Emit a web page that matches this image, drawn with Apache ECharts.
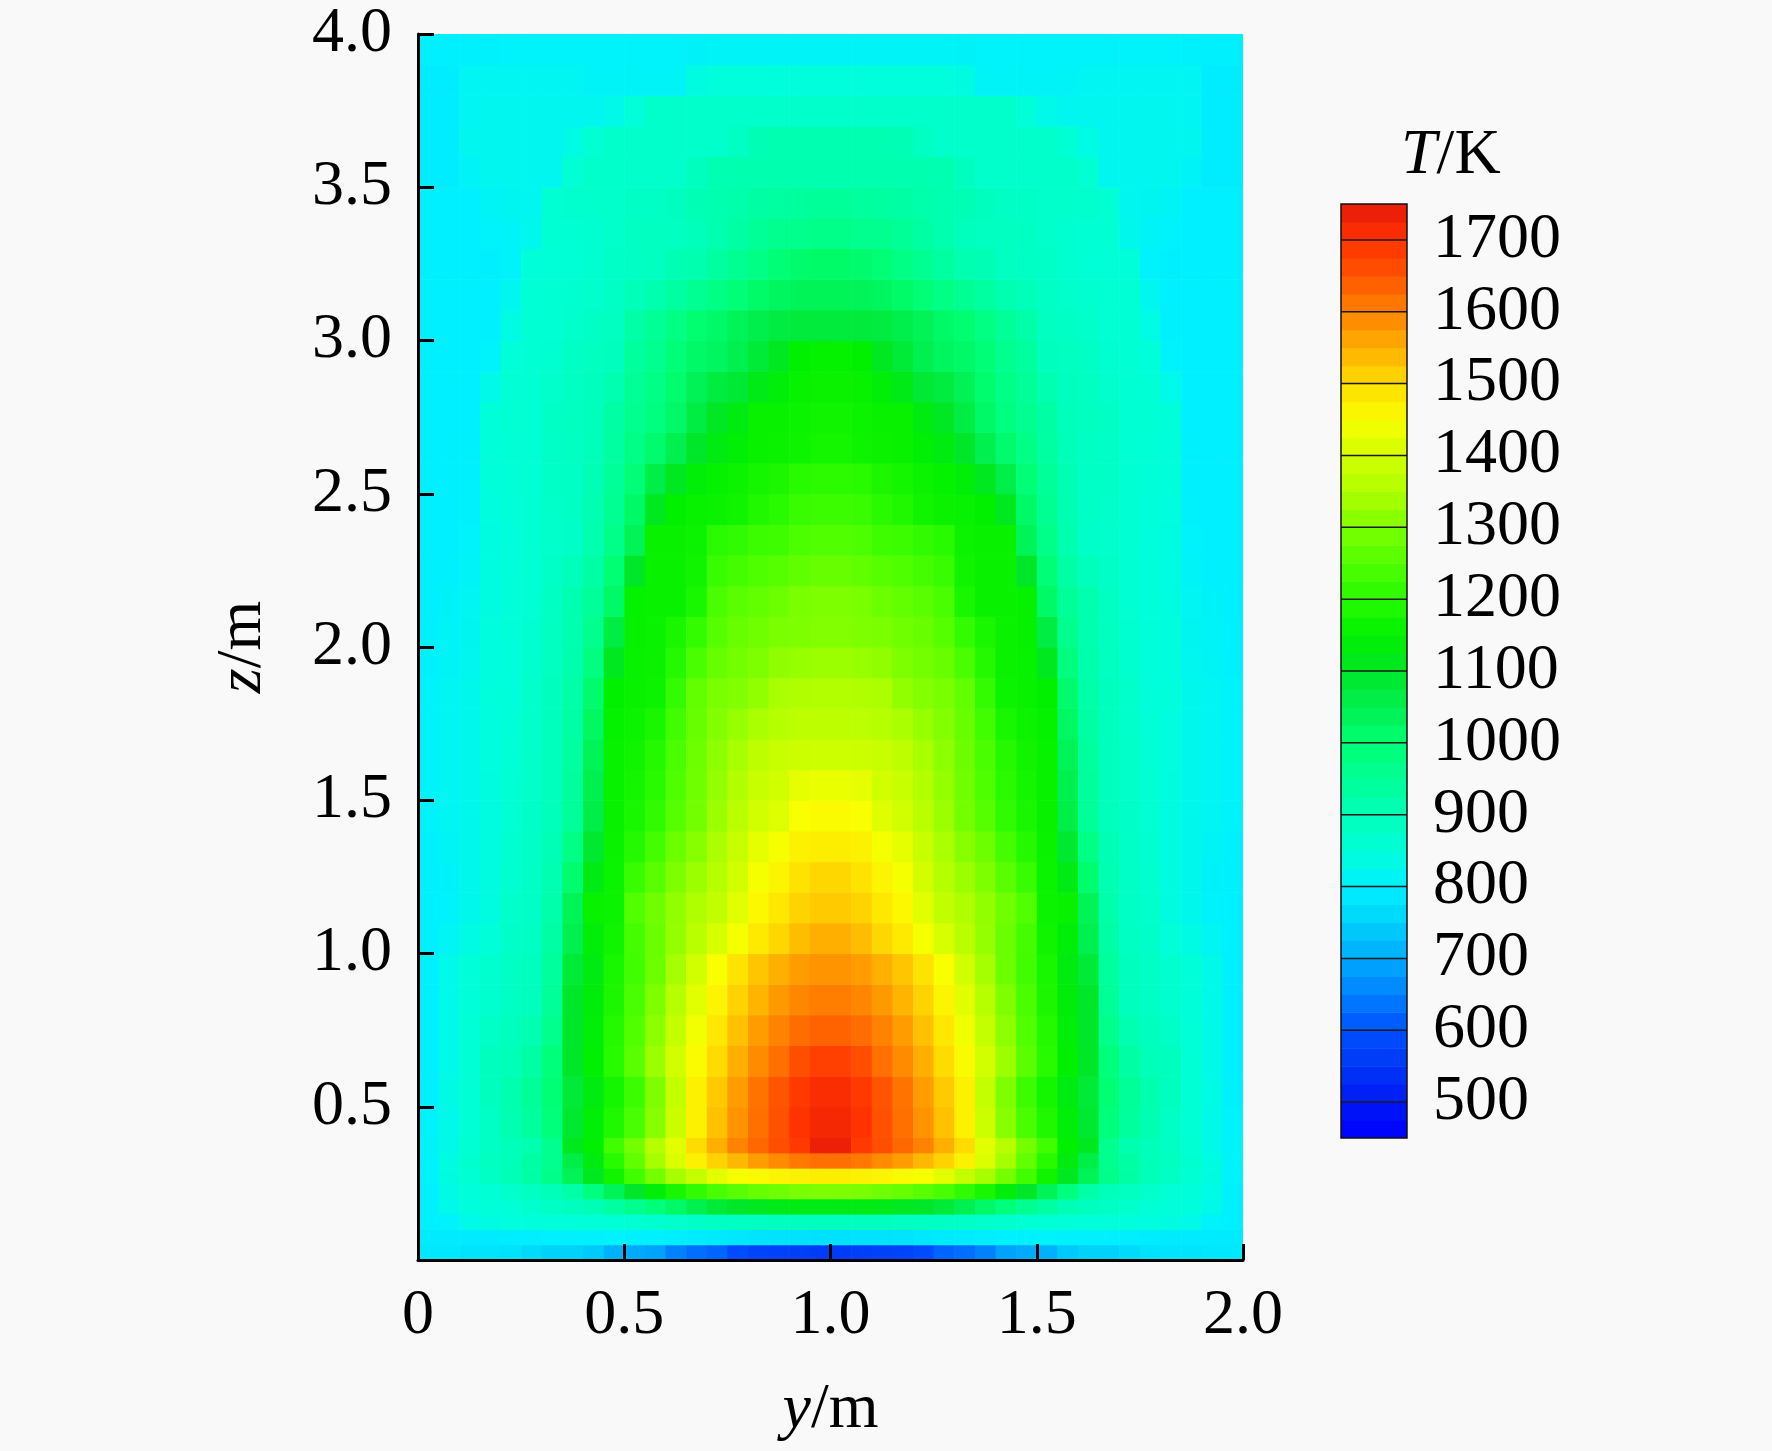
<!DOCTYPE html>
<html lang="zh">
<head>
    <meta charset="UTF-8">
    <title>温度场 T/K</title>
    <script src="https://cdn.jsdelivr.net/npm/echarts@6/dist/echarts.min.js"></script>
    <style>
        html, body { margin: 0; padding: 0; background: #f9f9f9; }
        #main { width: 1772px; height: 1451px; }
    </style>
</head>
<body>
<div id="main"></div>
<script type="text/javascript">
    // 网格边界 (y 方向 / z 方向, 单位 m)
    var yEdges = [0, 0.05, 0.1, 0.15, 0.2, 0.25, 0.3, 0.35, 0.4, 0.45, 0.5, 0.55, 0.6, 0.65, 0.7, 0.75, 0.8, 0.85, 0.9, 0.95,
        1.0, 1.05, 1.1, 1.15, 1.2, 1.25, 1.3, 1.35, 1.4, 1.45, 1.5, 1.55, 1.6, 1.65, 1.7, 1.75, 1.8, 1.85, 1.9, 1.95, 2.0];
    var zEdges = [0, 0.05, 0.1, 0.15, 0.2, 0.25, 0.3, 0.35, 0.4, 0.5, 0.6, 0.7, 0.8, 0.9, 1.0, 1.1, 1.2, 1.3, 1.4, 1.5,
        1.6, 1.7, 1.8, 1.9, 2.0, 2.1, 2.2, 2.3, 2.4, 2.5, 2.6, 2.7, 2.8, 2.9, 3.0, 3.1, 3.2, 3.3, 3.4, 3.5,
        3.6, 3.7, 3.8, 3.9, 4.0];

    // 温度 T/K, 每行一个 z 层 (从下到上), 每行 40 个 y 单元 (从左到右)
    var tempRows = [
        [785,785,782,780,778,765,752,750,740,710,700,690,650,630,620,590,575,570,565,560,560,565,570,575,590,620,630,650,690,700,710,740,750,752,765,778,780,782,785,785],
        [792,792,793,794,795,797,800,802,804,805,803,800,797,793,790,785,780,778,776,775,775,776,778,780,785,790,793,797,800,803,805,804,802,800,797,795,794,793,792,792],
        [800,805,830,838,842,845,847,850,852,855,858,865,872,878,882,885,888,890,890,890,890,890,890,888,885,882,878,872,865,858,855,852,850,847,845,842,838,830,805,800],
        [800,830,845,850,855,868,880,890,905,935,960,990,1020,1050,1080,1100,1110,1120,1125,1125,1125,1125,1120,1110,1100,1080,1050,1020,990,960,935,905,890,880,868,855,850,845,830,800],
        [800,835,850,855,872,888,900,925,985,1040,1100,1140,1180,1210,1240,1260,1275,1285,1295,1300,1300,1295,1285,1275,1260,1240,1210,1180,1140,1100,1040,985,925,900,888,872,855,850,835,800],
        [805,840,860,882,902,928,968,1040,1110,1170,1230,1290,1340,1380,1420,1445,1455,1465,1470,1475,1475,1470,1465,1455,1445,1420,1380,1340,1290,1230,1170,1110,1040,968,928,902,882,860,840,805],
        [805,840,865,888,900,928,960,1060,1130,1200,1270,1340,1410,1470,1510,1540,1570,1590,1610,1620,1620,1610,1590,1570,1540,1510,1470,1410,1340,1270,1200,1130,1060,960,928,900,888,865,840,805],
        [810,830,860,880,900,915,960,1110,1150,1230,1290,1360,1420,1500,1550,1600,1630,1660,1690,1735,1735,1690,1660,1630,1600,1550,1500,1420,1360,1290,1230,1150,1110,960,915,900,880,860,830,810],
        [805,830,855,880,910,940,990,1090,1140,1190,1240,1310,1390,1470,1530,1580,1620,1655,1700,1720,1720,1700,1655,1620,1580,1530,1470,1390,1310,1240,1190,1140,1090,990,940,910,880,855,830,805],
        [800,835,855,890,915,945,1000,1080,1130,1175,1225,1300,1380,1470,1520,1570,1615,1650,1690,1710,1710,1690,1650,1615,1570,1520,1470,1380,1300,1225,1175,1130,1080,1000,945,915,890,855,835,800],
        [800,830,855,890,900,930,990,1100,1150,1200,1260,1330,1400,1455,1500,1550,1590,1620,1660,1680,1680,1660,1620,1590,1550,1500,1455,1400,1330,1260,1200,1150,1100,990,930,900,890,855,830,800],
        [800,830,852,878,890,910,965,1100,1140,1195,1250,1315,1380,1440,1485,1530,1570,1600,1625,1635,1635,1625,1600,1570,1530,1485,1440,1380,1315,1250,1195,1140,1100,965,910,890,878,852,830,800],
        [800,830,850,865,880,890,945,1100,1135,1185,1240,1300,1360,1420,1465,1510,1545,1575,1595,1605,1605,1595,1575,1545,1510,1465,1420,1360,1300,1240,1185,1135,1100,945,890,880,865,850,830,800],
        [800,830,850,865,880,890,940,1080,1130,1180,1230,1280,1340,1400,1450,1490,1525,1550,1570,1580,1580,1570,1550,1525,1490,1450,1400,1340,1280,1230,1180,1130,1080,940,890,880,865,850,830,800],
        [800,815,835,850,875,885,928,1050,1140,1170,1235,1278,1322,1365,1405,1445,1480,1505,1535,1550,1550,1535,1505,1480,1445,1405,1365,1322,1278,1235,1170,1140,1050,928,885,875,850,835,815,800],
        [800,805,825,840,870,880,920,1040,1160,1165,1250,1285,1320,1350,1375,1420,1460,1485,1510,1520,1520,1510,1485,1460,1420,1375,1350,1320,1285,1250,1165,1160,1040,920,880,870,840,825,805,800],
        [802,808,825,840,866,878,912,1008,1125,1163,1220,1260,1300,1330,1360,1400,1445,1465,1490,1505,1505,1490,1465,1445,1400,1360,1330,1300,1260,1220,1163,1125,1008,912,878,866,840,825,808,802],
        [803,812,825,840,863,877,903,975,1090,1161,1195,1235,1280,1310,1345,1385,1425,1445,1470,1475,1475,1470,1445,1425,1385,1345,1310,1280,1235,1195,1161,1090,975,903,877,863,840,825,812,803],
        [805,815,825,840,860,875,895,945,1060,1160,1180,1210,1255,1290,1330,1365,1400,1415,1450,1455,1455,1450,1415,1400,1365,1330,1290,1255,1210,1180,1160,1060,945,895,875,860,840,825,815,805],
        [805,815,825,841,858,874,894,941,1050,1159,1175,1203,1248,1286,1322,1355,1385,1400,1425,1430,1430,1425,1400,1385,1355,1322,1286,1248,1203,1175,1159,1050,941,894,874,858,841,825,815,805],
        [805,815,825,842,855,873,893,937,1040,1158,1170,1195,1240,1282,1315,1342,1370,1385,1390,1392,1392,1390,1385,1370,1342,1315,1282,1240,1195,1170,1158,1040,937,893,873,855,842,825,815,805],
        [805,815,825,844,851,871,892,930,1025,1155,1165,1180,1230,1275,1305,1325,1345,1360,1368,1370,1370,1368,1360,1345,1325,1305,1275,1230,1180,1165,1155,1025,930,892,871,851,844,825,815,805],
        [805,815,825,845,848,870,890,925,1010,1150,1160,1165,1215,1270,1295,1305,1320,1345,1350,1355,1355,1350,1345,1320,1305,1295,1270,1215,1165,1160,1150,1010,925,890,870,848,845,825,815,805],
        [803,812,820,843,848,866,888,918,985,1110,1158,1162,1195,1240,1275,1290,1300,1318,1325,1330,1330,1325,1318,1300,1290,1275,1240,1195,1162,1158,1110,985,918,888,866,848,843,820,812,803],
        [802,810,818,842,849,863,887,913,965,1065,1157,1161,1180,1215,1255,1275,1285,1295,1300,1305,1305,1300,1295,1285,1275,1255,1215,1180,1161,1157,1065,965,913,887,863,849,842,818,810,802],
        [800,808,815,840,850,860,885,915,945,1020,1155,1160,1160,1180,1240,1260,1270,1280,1295,1300,1300,1295,1280,1270,1260,1240,1180,1160,1160,1155,1020,945,915,885,860,850,840,815,808,800],
        [800,802,810,840,848,860,878,895,930,995,1100,1160,1160,1170,1220,1235,1248,1255,1268,1275,1275,1268,1255,1248,1235,1220,1170,1160,1160,1100,995,930,895,878,860,848,840,810,802,800],
        [800,800,805,840,845,860,872,875,915,970,1040,1160,1160,1165,1200,1210,1225,1228,1245,1250,1250,1245,1228,1225,1210,1200,1165,1160,1160,1040,970,915,875,872,860,845,840,805,800,800],
        [800,800,804,844,850,860,874,880,910,955,1020,1110,1150,1158,1162,1170,1190,1200,1220,1225,1225,1220,1200,1190,1170,1162,1158,1150,1110,1020,955,910,880,874,860,850,844,804,800,800],
        [800,800,803,846,853,860,876,882,905,945,995,1060,1110,1140,1155,1165,1175,1185,1200,1205,1205,1200,1185,1175,1165,1155,1140,1110,1060,995,945,905,882,876,860,853,846,803,800,800],
        [800,800,802,848,857,860,878,885,900,935,975,1010,1050,1100,1130,1145,1160,1162,1168,1175,1175,1168,1162,1160,1145,1130,1100,1050,1010,975,935,900,885,878,860,857,848,802,800,800],
        [800,800,800,850,860,860,880,887,895,930,960,985,1020,1065,1105,1130,1160,1160,1165,1170,1170,1165,1160,1160,1130,1105,1065,1020,985,960,930,895,887,880,860,860,850,800,800,800],
        [800,800,800,830,855,860,870,884,890,910,950,972,1008,1042,1070,1085,1120,1140,1158,1162,1162,1158,1140,1120,1085,1070,1042,1008,972,950,910,890,884,870,860,855,830,800,800,800],
        [800,800,800,805,850,860,862,880,887,890,940,960,995,1020,1030,1050,1080,1110,1150,1155,1155,1150,1110,1080,1050,1030,1020,995,960,940,890,887,880,862,860,850,805,800,800,800],
        [800,800,800,802,835,858,860,872,880,887,925,950,980,1005,1020,1040,1055,1070,1075,1075,1075,1075,1070,1055,1040,1020,1005,980,950,925,887,880,872,860,858,835,802,800,800,800],
        [800,800,800,800,820,855,858,865,872,882,900,915,935,955,975,995,1015,1030,1038,1040,1040,1038,1030,1015,995,975,955,935,915,900,882,872,865,858,855,820,800,800,800,800],
        [800,800,800,798,805,850,852,855,862,878,882,887,905,915,935,955,975,1000,1010,1015,1015,1010,1000,975,955,935,915,905,887,882,878,862,855,852,850,805,798,800,800,800],
        [800,800,800,805,810,825,860,860,862,870,885,887,888,895,915,930,950,960,965,970,970,965,960,950,930,915,895,888,887,885,870,862,860,860,825,810,805,800,800,800],
        [800,800,800,812,818,820,860,868,870,872,880,880,890,905,915,920,930,935,940,945,945,940,935,930,920,915,905,890,880,880,872,870,868,860,820,818,812,800,800,800],
        [795,795,810,820,820,820,820,860,872,872,872,872,872,890,912,915,915,915,915,915,915,915,915,915,915,912,890,872,872,872,872,872,860,820,820,820,820,810,795,795],
        [795,795,820,820,820,820,820,835,860,872,872,872,872,872,872,885,905,912,912,912,912,912,912,905,885,872,872,872,872,872,872,860,835,820,820,820,820,820,795,795],
        [795,795,815,820,820,820,820,820,820,830,850,870,870,870,870,870,870,870,870,870,870,870,870,870,870,870,870,870,870,850,830,820,820,820,820,820,820,815,795,795],
        [795,795,815,815,815,815,815,815,810,810,810,810,810,840,845,845,845,845,845,845,845,845,845,845,845,845,840,810,810,810,810,810,815,815,815,815,815,815,795,795],
        [800,800,802,804,805,806,806,806,806,806,806,806,806,808,810,810,810,810,810,810,810,810,810,810,810,810,808,806,806,806,806,806,806,806,806,806,805,804,802,800]
    ];

    // 色标分段与刻度
    var barEdges = [450, 475, 500, 525, 550, 575, 600, 625, 650, 675, 700, 725, 750, 775, 800, 825, 850, 875, 900, 925,
        950, 975, 1000, 1025, 1050, 1075, 1100, 1125, 1150, 1175, 1200, 1225, 1250, 1275, 1300, 1325, 1350, 1375,
        1400, 1425, 1450, 1475, 1500, 1525, 1550, 1575, 1600, 1625, 1650, 1675, 1700, 1725, 1750];
    var barTicks = [500, 600, 700, 800, 900, 1000, 1100, 1200, 1300, 1400, 1500, 1600, 1700];
    var yTicks = [0, 0.5, 1.0, 1.5, 2.0];
    var zTicks = [0.5, 1.0, 1.5, 2.0, 2.5, 3.0, 3.5, 4.0];

    var rainbow = ['#0000ff', '#0018f5', '#0037f5', '#0050ff', '#0082ff', '#00aaff', '#00d2fa', '#00f0ff',
        '#00ffd8', '#00ffb8', '#00ff96', '#00ff74', '#00f050', '#00e628', '#00f000', '#28fa00', '#50ff00',
        '#7dff00', '#afff00', '#d2ff00', '#faff00', '#ffdc00', '#ffaf00', '#ff8200', '#ff5500', '#ff3200', '#e6190a'];

    var FONT = '"Liberation Serif", "Times New Roman", serif';

    var cells = [];
    for (var i = 0; i < tempRows.length; i++) {
        for (var j = 0; j < tempRows[i].length; j++) {
            cells.push([yEdges[j], yEdges[j + 1], zEdges[i], zEdges[i + 1], tempRows[i][j]]);
        }
    }
    var bands = [];
    for (var k = 0; k < barEdges.length - 1; k++) {
        bands.push([0, 1, barEdges[k], barEdges[k + 1], (barEdges[k] + barEdges[k + 1]) / 2]);
    }

    function renderCell(params, api) {
        var p0 = api.coord([api.value(0), api.value(3)]);
        var p1 = api.coord([api.value(1), api.value(2)]);
        return {
            type: 'rect',
            shape: { x: p0[0], y: p0[1], width: p1[0] - p0[0] + 0.6, height: p1[1] - p0[1] + 0.6 },
            style: { fill: api.visual('color') }
        };
    }

    function renderBand(params, api) {
        var lo = api.value(2);
        var p0 = api.coord([0, api.value(3)]);
        var p1 = api.coord([1, lo]);
        var kids = [{
            type: 'rect',
            shape: { x: p0[0], y: p0[1], width: p1[0] - p0[0], height: p1[1] - p0[1] + 0.6 },
            style: { fill: api.visual('color') }
        }];
        if (lo % 100 === 0) {
            kids.push({
                type: 'line',
                z2: 10,
                shape: { x1: p0[0], y1: p1[1], x2: p1[0], y2: p1[1] },
                style: { stroke: '#1a1a1a', lineWidth: 1.5 }
            });
        }
        return { type: 'group', children: kids };
    }

    var labelStyle = { fontFamily: FONT, fontSize: 64, color: '#000' };
    var nameStyle = {
        fontFamily: FONT, fontSize: 64, color: '#000',
        rich: { i: { fontFamily: FONT, fontSize: 64, fontStyle: 'italic', color: '#000' } }
    };

    var myChart = echarts.init(document.getElementById('main'));
    myChart.setOption({
        backgroundColor: '#f9f9f9',
        animation: false,
        title: {
            text: '{i|T}/K',
            left: 1401,
            top: 124,
            padding: 0,
            textStyle: {
                fontFamily: FONT, fontSize: 64, fontWeight: 'normal', color: '#000',
                rich: { i: { fontFamily: FONT, fontSize: 64, fontStyle: 'italic', color: '#000' } }
            }
        },
        grid: [
            { left: 418, top: 34, width: 825, height: 1226 },
            { left: 1341, top: 204, width: 66, height: 934, show: true, z: 10,
              borderColor: '#111', borderWidth: 1.5, backgroundColor: 'transparent' }
        ],
        visualMap: {
            type: 'continuous',
            show: false,
            min: 450,
            max: 1750,
            dimension: 4,
            seriesIndex: [0, 1],
            inRange: { color: rainbow }
        },
        xAxis: [
            {
                gridIndex: 0, type: 'value', min: 0, max: 2, position: 'bottom', z: 10,
                name: '{i|y}/m', nameLocation: 'middle', nameGap: 118, nameTextStyle: nameStyle,
                axisLine: { show: true, onZero: false, lineStyle: { color: '#000', width: 3 } },
                axisTick: { show: true, inside: true, length: 16, customValues: yTicks, lineStyle: { color: '#000', width: 3 } },
                axisLabel: Object.assign({ customValues: yTicks, margin: 24, formatter: function (v) {
                    return v === 0 ? '0' : v.toFixed(1);
                } }, labelStyle),
                splitLine: { show: false }
            },
            { gridIndex: 1, type: 'value', min: 0, max: 1, show: false }
        ],
        yAxis: [
            {
                gridIndex: 0, type: 'value', min: 0, max: 4, position: 'left', z: 10,
                name: '{i|z}/m', nameLocation: 'middle', nameGap: 143, nameTextStyle: nameStyle,
                axisLine: { show: true, onZero: false, lineStyle: { color: '#000', width: 3 } },
                axisTick: { show: true, inside: true, length: 16, customValues: zTicks, lineStyle: { color: '#000', width: 3 } },
                axisLabel: Object.assign({ customValues: zTicks, margin: 26, formatter: function (v) {
                    return v.toFixed(1);
                } }, labelStyle),
                splitLine: { show: false }
            },
            {
                gridIndex: 1, type: 'value', min: 450, max: 1750, position: 'right', z: 10,
                axisLine: { show: false },
                axisTick: { show: false },
                axisLabel: Object.assign({ customValues: barTicks, margin: 26, formatter: function (v) {
                    return String(v);
                } }, labelStyle),
                splitLine: { show: false }
            }
        ],
        series: [
            {
                name: 'T',
                type: 'custom',
                xAxisIndex: 0,
                yAxisIndex: 0,
                clip: true,
                renderItem: renderCell,
                encode: { x: [0, 1], y: [2, 3] },
                data: cells
            },
            {
                name: 'colorbar',
                type: 'custom',
                xAxisIndex: 1,
                yAxisIndex: 1,
                clip: true,
                renderItem: renderBand,
                encode: { x: [0, 1], y: [2, 3] },
                data: bands
            }
        ]
    });
</script>
</body>
</html>
